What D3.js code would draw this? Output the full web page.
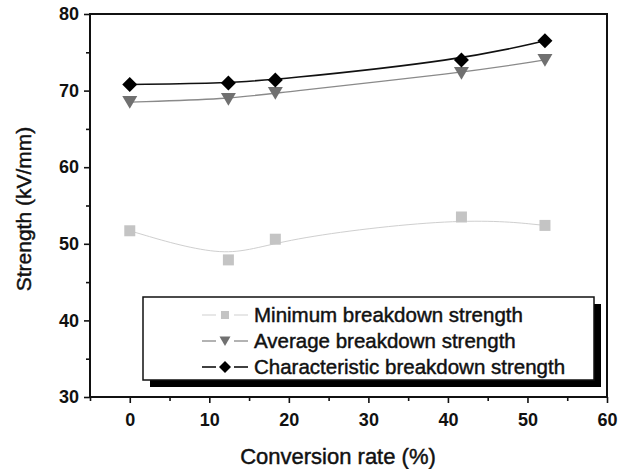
<!DOCTYPE html>
<html>
<head>
<meta charset="utf-8">
<title>Breakdown strength vs conversion rate</title>
<script src="https://cdn.jsdelivr.net/npm/d3@7"></script>
<style>
  body { margin: 0; background: #fff; }
  text { font-family: "Liberation Sans", Arial, sans-serif; fill: #111; }
  .heavy { stroke: #111; stroke-width: 0.45px; }
</style>
</head>
<body>
<script>
// data
var conversion = [0, 12.4, 18.3, 41.7, 52.2];
var minStrength = [51.7, 47.9, 50.6, 53.5, 52.4];
var avgStrength = [68.5, 68.9, 69.7, 72.3, 74.0];
var charStrength = [70.8, 71.0, 71.4, 74.0, 76.5];
var seriesNames = ["Minimum breakdown strength", "Average breakdown strength", "Characteristic breakdown strength"];
var xTicks = [0, 10, 20, 30, 40, 50, 60];
var yTicks = [30, 40, 50, 60, 70, 80];

var width = 628, height = 469;
var margin = {left: 90, top: 14, right: 21, bottom: 72};

var svg = d3.select("body").append("svg")
    .attr("width", width)
    .attr("height", height);

var x = d3.scaleLinear().domain([-5, 60]).range([margin.left, width - margin.right]);
var y = d3.scaleLinear().domain([30, 80]).range([height - margin.bottom, margin.top]);

// symbol shapes
function diamond(r) { return "M0," + (-r) + "L" + r + ",0L0," + r + "L" + (-r) + ",0Z"; }
function triDown(r) { return "M" + (-r) + "," + (-r * 0.8) + "L" + r + "," + (-r * 0.8) + "L0," + (r * 0.9) + "Z"; }
function square(r) { return "M" + (-r) + "," + (-r) + "h" + (2 * r) + "v" + (2 * r) + "h" + (-2 * r) + "Z"; }

var series = [
  {name: seriesNames[0], values: minStrength, line: "#cfcfcf", lw: 1, fill: "#c4c4c4", shape: square, r: 5.5, lr: 4},
  {name: seriesNames[1], values: avgStrength, line: "#8a8a8a", lw: 1.3, fill: "#707070", shape: triDown, r: 7.5, lr: 5.5},
  {name: seriesNames[2], values: charStrength, line: "#111", lw: 1.6, fill: "#000", shape: diamond, r: 7.5, lr: 6}
];

// axes
var xAxis = d3.axisBottom(x).tickValues(xTicks).tickSize(6).tickPadding(10).tickFormat(d3.format("d"));
var xMinor = d3.axisBottom(x).tickValues([-5, 5, 15, 25, 35, 45, 55]).tickSize(4).tickFormat("");
var yAxis = d3.axisLeft(y).tickValues(yTicks).tickSize(6).tickPadding(5).tickFormat(d3.format("d"));
var yMinor = d3.axisLeft(y).tickValues([35, 45, 55, 65, 75]).tickSize(4).tickFormat("");

svg.append("g").attr("transform", "translate(0," + y(30) + ")").call(xAxis);
svg.append("g").attr("transform", "translate(0," + y(30) + ")").call(xMinor);
svg.append("g").attr("transform", "translate(" + x(-5) + ",0)").call(yAxis);
svg.append("g").attr("transform", "translate(" + x(-5) + ",0)").call(yMinor);

svg.selectAll(".domain").remove();
svg.selectAll(".tick line").attr("stroke", "#111").attr("stroke-width", 1.6);
svg.selectAll(".tick text")
    .style("font-size", "18px").style("font-weight", "bold").attr("fill", "#111");

// frame
svg.append("rect")
    .attr("x", x(-5)).attr("y", y(80))
    .attr("width", x(60) - x(-5)).attr("height", y(30) - y(80))
    .attr("fill", "none").attr("stroke", "#111").attr("stroke-width", 2);

// axis titles
svg.append("text")
    .attr("class", "heavy")
    .attr("x", 338).attr("y", 464)
    .attr("text-anchor", "middle")
    .style("font-size", "22px")
    .text("Conversion rate (%)");

svg.append("text")
    .attr("class", "heavy")
    .attr("transform", "translate(31,209) rotate(-90)")
    .attr("text-anchor", "middle")
    .style("font-size", "21px")
    .text("Strength (kV/mm)");

// lines + markers
var line = d3.line()
    .x(function(d) { return x(d[0]); })
    .y(function(d) { return y(d[1]); })
    .curve(d3.curveBasis);

series.forEach(function(s) {
  var pts = conversion.map(function(c, i) { return [c, s.values[i]]; });
  svg.append("path")
      .datum(pts)
      .attr("d", line)
      .attr("fill", "none")
      .attr("stroke", s.line)
      .attr("stroke-width", s.lw);
  svg.selectAll(null)
      .data(pts)
      .enter().append("path")
      .attr("transform", function(d) { return "translate(" + x(d[0]) + "," + y(d[1]) + ")"; })
      .attr("d", s.shape(s.r))
      .attr("fill", s.fill);
});

// legend
var lg = {x: 143, y: 297, w: 451, h: 83};
svg.append("rect")
    .attr("x", lg.x + 7).attr("y", lg.y + 7)
    .attr("width", lg.w).attr("height", lg.h)
    .attr("fill", "#000");
svg.append("rect")
    .attr("x", lg.x).attr("y", lg.y)
    .attr("width", lg.w).attr("height", lg.h)
    .attr("fill", "#fff").attr("stroke", "#111").attr("stroke-width", 1.5);

var rowY = [315, 341, 367];
series.forEach(function(s, i) {
  var g = svg.append("g").attr("transform", "translate(0," + rowY[i] + ")");
  g.append("line").attr("x1", 202).attr("x2", 216).attr("y1", 0).attr("y2", 0)
      .attr("stroke", s.line).attr("stroke-width", s.lw);
  g.append("line").attr("x1", 234).attr("x2", 248).attr("y1", 0).attr("y2", 0)
      .attr("stroke", s.line).attr("stroke-width", s.lw);
  g.append("path").attr("transform", "translate(225,0)")
      .attr("d", s.shape(s.lr)).attr("fill", s.fill);
  g.append("text").attr("class", "heavy").attr("x", 254).attr("y", 7)
      .style("font-size", "20.5px")
      .text(s.name);
});
</script>
</body>
</html>
